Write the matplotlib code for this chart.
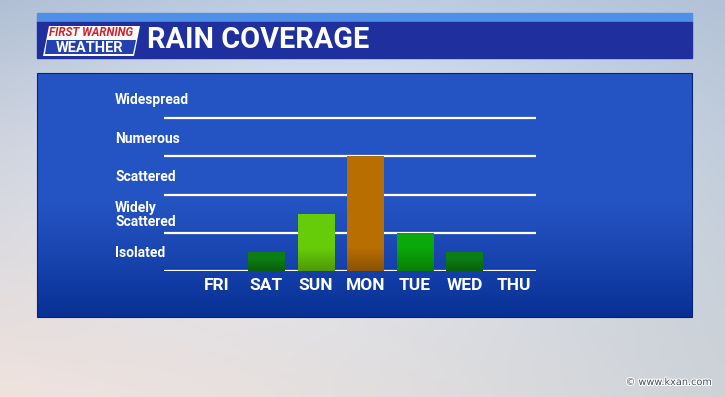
import numpy as np
import matplotlib
matplotlib.use("Agg")
import matplotlib.pyplot as plt
from matplotlib.patches import Rectangle, Polygon
import matplotlib.patheffects as pe

days = ["FRI", "SAT", "SUN", "MON", "TUE", "WED", "THU"]
coverage = [0.0, 0.5, 1.5, 3.0, 1.0, 0.5, 0.0]
bar_colors = ["#0b7d12", "#0b7d12", "#66cc0a", "#b86e00", "#0aa80a", "#0b7d12", "#0b7d12"]
level_labels = ["Isolated", "Widely\nScattered", "Scattered", "Numerous", "Widespread"]
level_pos = [0.5, 1.5, 2.5, 3.5, 4.5]
title = "RAIN COVERAGE"

W, H = 725, 397
fig = plt.figure(figsize=(W / 100, H / 100), dpi=100)

# background axes in pixel coordinates
bg = fig.add_axes([0, 0, 1, 1])
bg.set_xlim(0, W)
bg.set_ylim(H, 0)
bg.axis("off")

# cloudy background gradient (bilinear between corners)
c_tl = np.array([0.66, 0.72, 0.80])
c_tr = np.array([0.68, 0.74, 0.82])
c_bl = np.array([0.93, 0.88, 0.86])
c_br = np.array([0.80, 0.82, 0.84])
yy, xx = np.mgrid[0:1:60j, 0:1:100j]
img = (c_tl * ((1 - xx) * (1 - yy))[..., None] + c_tr * (xx * (1 - yy))[..., None]
       + c_bl * ((1 - xx) * yy)[..., None] + c_br * (xx * yy)[..., None])
glow = np.exp(-(((xx - 0.45) / 0.5) ** 2 + ((yy - 0.35) / 0.5) ** 2))[..., None]
img = np.clip(img + 0.12 * glow, 0, 1)
bg.imshow(img, extent=[0, W, H, 0], aspect="auto", zorder=0, interpolation="bicubic")

# header
bg.add_patch(Rectangle((37, 13), 655, 10, color="#4f8fe8", zorder=1))
bg.add_patch(Rectangle((37, 22), 655, 36, color="#1f309e", zorder=1))

# logo
bg.add_patch(Polygon([(49, 26), (140, 26), (134, 56), (43, 56)], closed=True,
                     facecolor="white", edgecolor="none", zorder=2))
bg.add_patch(Polygon([(47, 40), (136, 40), (133, 54), (45, 54)], closed=True,
                     facecolor="#2340b0", edgecolor="none", zorder=3))
bg.text(91, 33, "FIRST WARNING", color="#d3202a", fontsize=8.3, fontweight="bold",
        family="Roboto", ha="center", va="center", style="italic", zorder=4)
bg.text(90, 47.5, "WEATHER", color="white", fontsize=10.5, fontweight="bold",
        family="Roboto", ha="center", va="center", zorder=4)

bg.text(147, 40.5, title, color="white", fontsize=20.8, fontweight="bold",
        family="Roboto", ha="left", va="center", zorder=4)

# panel with vertical gradient
panel_top = np.array([0.145, 0.33, 0.77])
panel_bot = np.array([0.03, 0.19, 0.58])
t = np.linspace(0, 1, 100)[:, None]
t2 = np.clip((t - 0.5) / 0.5, 0, 1) ** 1.2
pimg = (panel_top * (1 - t2) + panel_bot * t2)[:, None, :] * np.ones((1, 10, 1))
bg.imshow(pimg, extent=[37, 692, 317, 73], aspect="auto", zorder=1, interpolation="bilinear")
bg.add_patch(Rectangle((37, 73), 655, 244, fill=False, edgecolor="#0a2070", lw=0.8, zorder=2))

bg.text(712, 382, "\u00a9 www.kxan.com", color="#4a4f58", fontsize=7, ha="right", va="center",
        family="DejaVu Sans", zorder=4,
        path_effects=[pe.withStroke(linewidth=1.5, foreground="white")])

# chart axes
px_per_x = (514 - 217) / 6.0
px_per_y = (271 - 118) / 4.0
left_px, right_px = 164, 536
ymax = 5.0
top_px = 271 - ymax * px_per_y
ax = fig.add_axes([left_px / W, (H - 271) / H, (right_px - left_px) / W, (271 - top_px) / H])
ax.patch.set_alpha(0)
for s in ax.spines.values():
    s.set_visible(False)

x = np.arange(len(days))
ax.bar(x, coverage, width=37 / px_per_x, color=bar_colors, zorder=3)

# darken lower part of bars (shading)
shade = np.zeros((50, 2, 4))
shade[..., 3] = (np.clip((0.6 - np.linspace(0, 1, 50)) / 0.6, 0, 1) * 0.25)[:, None]
for xi, v in zip(x, coverage):
    if v > 0:
        ax.imshow(shade, extent=[xi - 18.5 / px_per_x, xi + 18.5 / px_per_x, 0, min(v, 1.0)],
                  origin="lower", aspect="auto", zorder=4)
ax.set_xlim((left_px - 217) / px_per_x, (right_px - 217) / px_per_x)
ax.set_ylim(0, ymax)

for yv in [0, 1, 2, 3, 4]:
    ax.axhline(yv, color="white", lw=1.6, zorder=2)

ax.set_xticks(x)
ax.set_xticklabels(days, color="white", fontsize=12.5, fontweight="bold", family="Roboto")
ax.tick_params(axis="x", length=0, pad=5)
ax.set_yticks(level_pos)
ax.set_yticklabels(level_labels, color="white", fontsize=10, fontweight="bold",
                   family="Roboto", ha="left", linespacing=1.0)
ax.tick_params(axis="y", length=0, pad=49 * 0.72)

fig.savefig("out.png", dpi=100)
